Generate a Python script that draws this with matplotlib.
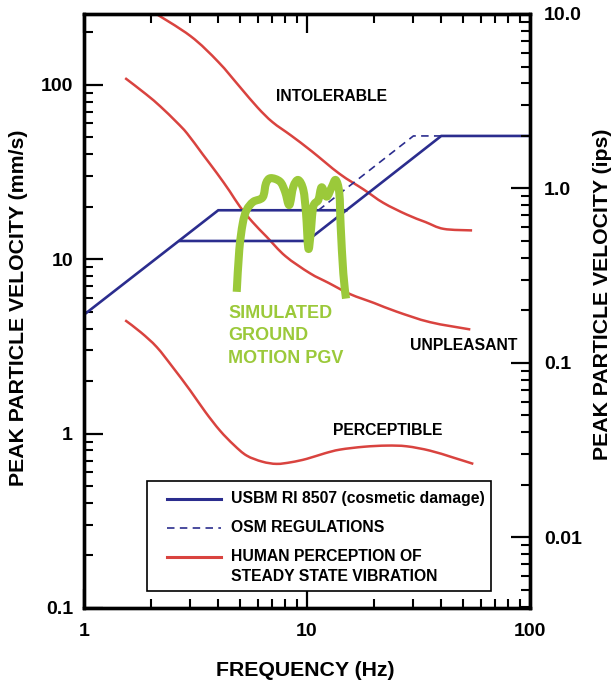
import matplotlib
matplotlib.use("Agg")
import numpy as np
import matplotlib.pyplot as plt
from matplotlib.ticker import FixedLocator, FixedFormatter, LogLocator, NullFormatter
from matplotlib.patches import Rectangle, PathPatch
from matplotlib.path import Path

plt.rcParams['font.family'] = ['Liberation Sans', 'DejaVu Sans']
plt.rcParams['font.weight'] = 'bold'

# ---------------- data ----------------
# USBM RI 8507 (cosmetic damage) limit, two solid segments (Hz, mm/s)
usbm_a_freq = [1.0, 4.0, 15.0]
usbm_a_vel = [4.8, 19.05, 19.05]
usbm_b_freq = [2.7, 10.0, 40.0, 100.0]
usbm_b_vel = [12.7, 12.7, 50.8, 50.8]

# OSM regulations (dashed)
osm_freq = [11.25, 30.0, 40.0]
osm_vel = [19.05, 50.8, 50.8]

# Human perception of steady state vibration
intolerable_freq = [2.0, 3.0, 4.0, 5.0, 6.0, 7.0, 8.5, 10.5, 14.0, 18.0, 22.0, 28.0, 34.0, 41.0, 55.0]
intolerable_vel = [265, 190, 135, 97, 74, 61, 51, 41.5, 30.8, 25.0, 21.0, 18.0, 16.3, 14.9, 14.6]

unpleasant_freq = [1.53, 1.9, 2.2, 2.6, 2.9, 3.4, 3.95, 4.5, 5.0, 5.7, 6.6, 8.0, 10.3, 12.5, 15.6, 20.0, 25.2, 35.6, 54.0]
unpleasant_vel = [109, 88, 75, 61, 52.5, 40, 31, 24.5, 20.0, 16.3, 13.4, 10.4, 8.3, 7.3, 6.3, 5.6, 5.0, 4.35, 3.95]

perceptible_freq = [1.53, 1.8, 2.12, 2.5, 2.99, 3.5, 4.07, 4.7, 5.36, 6.3, 7.31, 8.5, 9.97, 12.0, 14.06, 18.0, 22.8, 28.0, 35.6, 45.0, 55.7]
perceptible_vel = [4.46, 3.8, 3.13, 2.4, 1.77, 1.33, 1.04, 0.86, 0.748, 0.69, 0.67, 0.685, 0.716, 0.77, 0.809, 0.84, 0.853, 0.845, 0.798, 0.73, 0.67]

# Simulated ground motion PGV (hand-drawn trace)
pgv_freq = [4.84, 4.97, 5.15, 5.36, 5.74, 6.33, 6.55, 6.87, 7.57, 7.97, 8.33, 8.68, 9.14, 9.63,
            9.9, 10.14, 10.38, 10.67, 11.24, 11.63, 12.25, 12.9, 13.45, 13.96, 14.16, 14.55, 14.96]
pgv_vel = [6.49, 11.3, 16.0, 19.1, 21.3, 22.6, 27.2, 29.1, 27.8, 24.4, 20.4, 26.0, 28.4, 24.9,
           18.3, 11.5, 14.0, 20.0, 21.8, 25.8, 22.8, 25.8, 28.4, 23.9, 15.4, 8.27, 5.94]

x_ticks = [1, 10, 100]
x_ticklabels = ['1', '10', '100']
y_ticks = [0.1, 1, 10, 100]
y_ticklabels = ['0.1', '1', '10', '100']
ips_ticks = [0.01, 0.1, 1.0, 10.0]
ips_ticklabels = ['0.01', '0.1', '1.0', '10.0']
MM_PER_IN = 25.4

legend_labels = ['USBM RI 8507 (cosmetic damage)', 'OSM REGULATIONS',
                 'HUMAN PERCEPTION OF', 'STEADY STATE VIBRATION']

# ---------------- style ----------------
BLUE = '#2b2d8e'
RED = '#d9433f'
GREEN = '#9bc93a'


def smooth_curve(freq, vel):
    """Catmull-Rom spline through the read points, built in log-log space and
    drawn as cubic Bezier segments in data coordinates (the axes' log scales
    map the control points, so the curve is smooth on screen)."""
    P = np.column_stack([np.log10(freq), np.log10(vel)])
    verts = [P[0]]
    codes = [Path.MOVETO]
    n = len(P)
    for i in range(n - 1):
        p0 = P[i - 1] if i > 0 else P[i]
        p1 = P[i]
        p2 = P[i + 1]
        p3 = P[i + 2] if i + 2 < n else P[i + 1]
        verts += [p1 + (p2 - p0) / 6.0, p2 - (p3 - p1) / 6.0, p2]
        codes += [Path.CURVE4] * 3
    return Path(10 ** np.array(verts), codes)


fig = plt.figure(figsize=(6.15, 6.84), dpi=100)
ax = fig.add_axes([84 / 615, 76 / 684, 446 / 615, 594 / 684])
ax.set_xscale('log')
ax.set_yscale('log')
ax.set_xlim(1, 100)
ax.set_ylim(0.1, 254)

ax.plot(usbm_a_freq, usbm_a_vel, color=BLUE, lw=1.9, solid_joinstyle='miter')
ax.plot(usbm_b_freq, usbm_b_vel, color=BLUE, lw=1.9, solid_joinstyle='miter')
ax.plot(osm_freq, osm_vel, color=BLUE, lw=1.2, linestyle=(0, (4.5, 3.2)))

for fr, ve in [(intolerable_freq, intolerable_vel), (unpleasant_freq, unpleasant_vel),
               (perceptible_freq, perceptible_vel)]:
    ax.add_patch(PathPatch(smooth_curve(fr, ve), fill=False, edgecolor=RED, lw=1.8,
                           joinstyle='round', capstyle='butt'))

ax.add_patch(PathPatch(smooth_curve(pgv_freq, pgv_vel), fill=False, edgecolor=GREEN,
                       lw=5.8, joinstyle='round', capstyle='butt', zorder=3))

# axes styling
for s in ax.spines.values():
    s.set_linewidth(2.4)

ax.xaxis.set_major_locator(FixedLocator(x_ticks))
ax.xaxis.set_major_formatter(FixedFormatter(x_ticklabels))
ax.xaxis.set_minor_locator(LogLocator(base=10, subs=range(2, 10), numticks=20))
ax.xaxis.set_minor_formatter(NullFormatter())
ax.yaxis.set_major_locator(FixedLocator(y_ticks))
ax.yaxis.set_major_formatter(FixedFormatter(y_ticklabels))
ax.yaxis.set_minor_locator(LogLocator(base=10, subs=range(2, 10), numticks=20))
ax.yaxis.set_minor_formatter(NullFormatter())

ax.tick_params(axis='both', which='both', direction='in', top=True, right=False)
ax.tick_params(axis='both', which='major', length=13.5, width=1.6, labelsize=14)
ax.tick_params(axis='both', which='minor', length=6.5, width=1.5)
ax.tick_params(axis='x', which='major', pad=11)
ax.tick_params(axis='y', which='major', pad=8)

ax2 = ax.twinx()
ax2.set_yscale('log')
ax2.set_ylim(0.1 / MM_PER_IN, 254 / MM_PER_IN)
ax2.yaxis.set_major_locator(FixedLocator(ips_ticks))
ax2.yaxis.set_major_formatter(FixedFormatter(ips_ticklabels))
ax2.yaxis.set_minor_locator(LogLocator(base=10, subs=range(2, 10), numticks=20))
ax2.yaxis.set_minor_formatter(NullFormatter())
ax2.tick_params(axis='y', which='both', direction='in', left=False, right=True)
ax2.tick_params(axis='y', which='major', length=13.5, width=1.6, labelsize=14, pad=10)
ax2.tick_params(axis='y', which='minor', length=6.5, width=1.5)
for s in ax2.spines.values():
    s.set_linewidth(2.4)

for lab in ax.get_xticklabels() + ax.get_yticklabels() + ax2.get_yticklabels():
    lab.set_fontweight('bold')

# axis titles
fig.text(18.3 / 615, 1 - 308 / 684, 'PEAK PARTICLE VELOCITY (mm/s)', rotation=90,
         ha='center', va='center', fontsize=15.3, fontweight='bold')
fig.text(603 / 615, 1 - 294.5 / 684, 'PEAK PARTICLE VELOCITY (ips)', rotation=90,
         ha='center', va='center', fontsize=15.3, fontweight='bold')
fig.text(305.5 / 615, 1 - 670 / 684, 'FREQUENCY (Hz)', ha='center', va='center',
         fontsize=15.3, fontweight='bold')

# region labels
ax.text(0.556, 0.8603, 'INTOLERABLE', transform=ax.transAxes, ha='center', va='center',
        fontsize=11.3, fontweight='bold')
ax.text(0.8513, 0.4416, 'UNPLEASANT', transform=ax.transAxes, ha='center', va='center',
        fontsize=11.3, fontweight='bold')
ax.text(0.6816, 0.2985, 'PERCEPTIBLE', transform=ax.transAxes, ha='center', va='center',
        fontsize=11.3, fontweight='bold')
for yy, t in [(0.4961, 'SIMULATED'), (0.4584, 'GROUND'), (0.4204, 'MOTION PGV')]:
    ax.text(0.3235, yy, t, transform=ax.transAxes, ha='left', va='center',
            fontsize=13, fontweight='bold', color=GREEN)

# legend box (drawn manually)
ax.add_patch(Rectangle((0.141, 0.0286), 0.9126 - 0.141, 0.2138 - 0.0286,
                       transform=ax.transAxes, facecolor='white', edgecolor='black',
                       lw=1.2, zorder=5))
hx = [0.185, 0.308]
ax.plot(hx, [0.1843, 0.1843], transform=ax.transAxes, color=BLUE, lw=2.2, zorder=6)
ax.plot(hx, [0.1352, 0.1352], transform=ax.transAxes, color=BLUE, lw=1.2,
        linestyle=(0, (4.5, 3.2)), zorder=6)
ax.plot(hx, [0.0867, 0.0867], transform=ax.transAxes, color=RED, lw=2.2, zorder=6)
for yy, t in zip([0.1843, 0.1352, 0.0867, 0.053], legend_labels):
    ax.text(0.3296, yy, t, transform=ax.transAxes, ha='left', va='center',
            fontsize=11.3, fontweight='bold', zorder=7)

fig.savefig('out.png', dpi=100)
